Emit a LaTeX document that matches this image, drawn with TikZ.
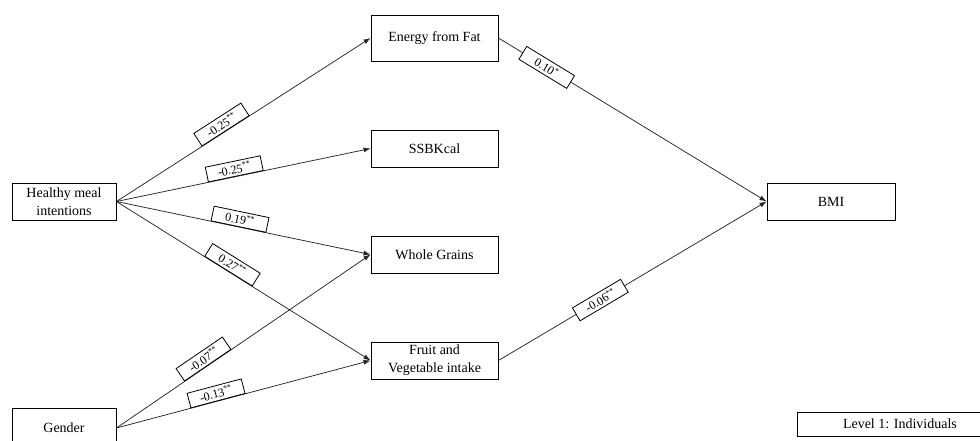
\documentclass[tikz,border=0pt]{standalone}
\usepackage{fontspec}
\setmainfont{Liberation Serif}
\usetikzlibrary{arrows.meta}
\begin{document}
\begin{tikzpicture}[x=1pt,y=-1pt,
  box/.style={draw=black, line width=0.9pt, fill=white, align=center,
    font=\fontsize{14}{18}\selectfont, inner sep=0pt},
  lab/.style={draw=black, line width=0.8pt, fill=white,
    font=\fontsize{12}{13}\selectfont, minimum width=56pt, minimum height=15pt, inner sep=1pt},
  conn/.style={line width=0.75pt, draw=black!85, -{Latex[length=7pt,width=5pt]}}]
\useasboundingbox (0,0) rectangle (980,441);
\node[box, minimum width=104pt, minimum height=37pt] (hmi) at (64,201.5) {Healthy meal\\intentions};
\node[box, minimum width=104pt, minimum height=40pt] (gender) at (64,428) {Gender};
\node[box, minimum width=127pt, minimum height=46pt] (fat) at (434.5,38) {Energy from Fat};
\node[box, minimum width=127pt, minimum height=37pt] (ssb) at (434.5,148.5) {SSBKcal};
\node[box, minimum width=127pt, minimum height=37pt] (wg) at (434.5,254.5) {Whole Grains};
\node[box, minimum width=127pt, minimum height=37pt] (fv) at (434.5,360.5) {Fruit and\\Vegetable intake};
\node[box, minimum width=128pt, minimum height=37pt] (bmi) at (831,201.5) {BMI};
\node[box, minimum width=205pt, minimum height=24pt, anchor=west] (level) at (797,424) {Level 1: Individuals};

\draw[conn] (hmi.east) -- node[lab, pos=0.43, sloped, above] {-0.25\textsuperscript{**}} (fat.west);
\draw[conn] (hmi.east) -- node[lab, pos=0.47, sloped, above] {-0.25\textsuperscript{**}} (ssb.west);
\draw[conn] (hmi.east) -- node[lab, pos=0.48, sloped, above] {0.19\textsuperscript{**}} (wg.west);
\draw[conn] (hmi.east) -- node[lab, pos=0.44, sloped, above] {0.27\textsuperscript{**}} (fv.west);
\draw[conn] (gender.east) -- node[lab, pos=0.36, sloped, above] {-0.07\textsuperscript{**}} (wg.west);
\draw[conn] (gender.east) -- node[lab, pos=0.40, sloped, above] {-0.13\textsuperscript{**}} (fv.west);
\draw[conn] (fat.east) -- node[lab, pos=0.18, sloped] {0.10\textsuperscript{*}} (bmi.west);
\draw[conn] (fv.east) -- node[lab, pos=0.38, sloped] {-0.06\textsuperscript{**}} (bmi.west);
\end{tikzpicture}
\end{document}
